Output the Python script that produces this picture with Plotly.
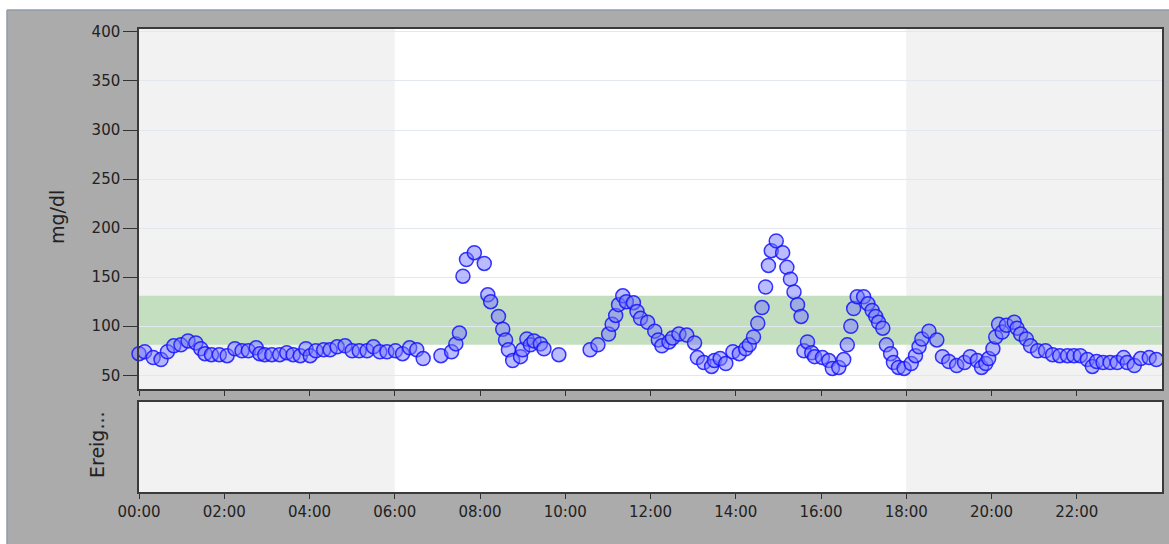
import plotly.graph_objects as go

# ---- data ----
times = [
    "00:00", "00:08", "00:20", "00:31", "00:40", "00:49", "00:59", "01:09", "01:20", "01:27",
    "01:33", "01:42", "01:53", "02:04", "02:15", "02:25", "02:34", "02:45", "02:50", "02:57",
    "03:07", "03:18", "03:28", "03:37", "03:47", "03:55", "04:01", "04:09", "04:20", "04:29",
    "04:39", "04:50", "05:00", "05:10", "05:21", "05:30", "05:39", "05:49", "06:01", "06:11",
    "06:21", "06:31", "06:40",
    "07:05", "07:20", "07:26", "07:31", "07:36", "07:41", "07:52", "08:06", "08:11", "08:15",
    "08:26", "08:32", "08:36", "08:40", "08:46", "08:57", "09:00", "09:06", "09:11", "09:16",
    "09:25", "09:30", "09:51",
    "10:35", "10:46", "11:01", "11:06", "11:11", "11:15", "11:21", "11:26", "11:36", "11:41",
    "11:46", "11:56", "12:06", "12:11", "12:16", "12:26", "12:31", "12:40", "12:51", "13:02",
    "13:06", "13:15", "13:26", "13:30", "13:38", "13:46", "13:56", "14:05", "14:14", "14:19",
    "14:25", "14:31", "14:37", "14:42", "14:46", "14:50", "14:57", "15:06", "15:12", "15:17",
    "15:22", "15:27", "15:32", "15:36", "15:41", "15:47", "15:51", "16:02", "16:11", "16:16",
    "16:25", "16:32", "16:37", "16:42", "16:46", "16:51", "17:00", "17:06", "17:12", "17:17",
    "17:21", "17:27", "17:32", "17:38", "17:42", "17:49", "17:57", "18:07", "18:13", "18:18",
    "18:22", "18:32", "18:43", "18:51", "19:00", "19:11", "19:22", "19:30", "19:40", "19:46",
    "19:52", "19:56", "20:02", "20:06", "20:10", "20:15", "20:21", "20:32", "20:36", "20:41",
    "20:49", "20:55", "21:05", "21:16", "21:26", "21:36", "21:47", "21:56", "22:05", "22:15",
    "22:22", "22:28", "22:37", "22:47", "22:57", "23:06", "23:11", "23:21", "23:30", "23:42",
    "23:52",
]
glucose = [
    72, 74, 68, 66, 74, 80, 81, 85, 83, 77,
    72, 71, 71, 70, 77, 75, 75, 78, 72, 71,
    71, 71, 73, 71, 70, 77, 70, 75, 76, 76,
    79, 80, 75, 75, 75, 79, 74, 74, 75, 72,
    78, 76, 67,
    70, 74, 82, 93, 151, 168, 175, 164, 132, 125,
    110, 97, 86, 76, 65, 69, 76, 87, 81, 85,
    82, 77, 71,
    76, 81, 92, 102, 111, 122, 131, 125, 124, 115,
    108, 104, 95, 86, 80, 84, 88, 92, 91, 83,
    68, 63, 59, 65, 67, 62, 74, 72, 77, 81,
    89, 103, 119, 140, 162, 177, 187, 175, 160, 148,
    135, 122, 110, 75, 84, 73, 69, 68, 65, 57,
    58, 66, 81, 100, 118, 130, 130, 123, 116, 110,
    104, 98, 81, 72, 63, 58, 57, 62, 70, 79,
    87, 95, 86, 69, 64, 60, 63, 69, 65, 58,
    62, 67, 77, 89, 102, 94, 101, 104, 98, 92,
    87, 80, 75, 75, 71, 70, 70, 70, 70, 66,
    59, 64, 63, 63, 63, 68, 63, 60, 67, 68,
    66,
]
y_ticks = [50, 100, 150, 200, 250, 300, 350, 400]
x_tick_labels = ["00:00", "02:00", "04:00", "06:00", "08:00", "10:00",
                 "12:00", "14:00", "16:00", "18:00", "20:00", "22:00"]
target_low, target_high = 81, 131
night_spans = [("00:00", "06:00"), ("18:00", "24:00")]
y_title = "mg/dl"
events_title = "Ereig..."

DAY = "2024-01-01 "


def ts(t):
    if t == "24:00":
        return "2024-01-02 00:00"
    return DAY + t


x_vals = [ts(t) for t in times]
tick_vals = [ts(t) for t in x_tick_labels]

W, H = 1169, 544
L, R = 139, 1162
main_top, main_bot = 29, 389
ev_top, ev_bot = 402, 492


def px(x):
    return x / W


def py(y):
    return (H - y) / H


fig = go.Figure()
fig.add_trace(go.Scatter(
    x=x_vals, y=glucose, mode="markers", xaxis="x", yaxis="y",
    cliponaxis=False,
    marker=dict(size=14, color="rgba(120,120,255,0.5)",
                line=dict(color="rgba(20,20,255,0.85)", width=1.5)),
    hoverinfo="x+y", showlegend=False,
))
# invisible trace to create lower panel
fig.add_trace(go.Scatter(x=[ts("00:00")], y=[0.5], mode="markers", xaxis="x2", yaxis="y2",
                         marker=dict(opacity=0), showlegend=False, hoverinfo="skip"))

shapes = []
for (a, b) in night_spans:
    for xr, yr in (("x", "y domain"), ("x2", "y2 domain")):
        shapes.append(dict(type="rect", xref=xr, yref=yr, x0=ts(a), x1=ts(b), y0=0, y1=1,
                           fillcolor="#f2f2f2", line=dict(width=0), layer="below"))
shapes.append(dict(type="rect", xref="x domain", yref="y", x0=0, x1=1, y0=target_low, y1=target_high,
                   fillcolor="#c3dfbf", line=dict(width=0), layer="below"))
# white outer strips and frame line
shapes.append(dict(type="rect", xref="paper", yref="paper", x0=0, x1=1, y0=py(10), y1=1,
                   fillcolor="white", line=dict(width=0), layer="above"))
shapes.append(dict(type="rect", xref="paper", yref="paper", x0=0, x1=px(7), y0=0, y1=1,
                   fillcolor="white", line=dict(width=0), layer="above"))
shapes.append(dict(type="line", xref="paper", yref="paper", x0=px(7), x1=1, y0=py(10), y1=py(10),
                   line=dict(color="#8d9cab", width=1.5), layer="above"))
shapes.append(dict(type="line", xref="paper", yref="paper", x0=px(7), x1=px(7), y0=0, y1=py(10),
                   line=dict(color="#8d9cab", width=1.5), layer="above"))

font_fam = "DejaVu Sans"
axis_common = dict(showline=True, linecolor="#3a3a3a", linewidth=1.5, mirror=True, automargin=False)

fig.update_layout(
    template="none",
    width=W, height=H,
    autosize=False,
    margin=dict(l=0, r=0, t=0, b=0, pad=0, autoexpand=False),
    paper_bgcolor="#ababab",
    plot_bgcolor="white",
    font=dict(family=font_fam, size=15, color="#222"),
    shapes=shapes,
    showlegend=False,
    xaxis=dict(domain=[px(L), px(R)], anchor="y", type="date",
               range=[ts("00:00"), ts("24:00")], tickvals=tick_vals, ticktext=x_tick_labels,
               showticklabels=False, ticks="outside", ticklen=5, tickcolor="#333",
               showgrid=False, zeroline=False, **axis_common),
    yaxis=dict(domain=[py(main_bot), py(main_top)], anchor="x", range=[36, 403],
               tickvals=y_ticks, ticks="outside", ticklen=14, tickcolor="#333",
               showgrid=True, gridcolor="#e3e8ef", gridwidth=1, zeroline=False,
               tickfont=dict(size=15, color="#222"), **axis_common),
    xaxis2=dict(domain=[px(L), px(R)], anchor="y2", type="date", matches="x",
                range=[ts("00:00"), ts("24:00")], tickvals=tick_vals, ticktext=x_tick_labels,
                ticks="outside", ticklen=5, tickcolor="#333", showgrid=False, zeroline=False,
                tickfont=dict(size=15, color="#222"), **axis_common),
    yaxis2=dict(domain=[py(ev_bot), py(ev_top)], anchor="x2", range=[0, 1],
                showticklabels=False, ticks="", showgrid=False, zeroline=False, **axis_common),
    annotations=[
        dict(text=y_title, xref="paper", yref="paper", x=px(57), y=py(217), textangle=-90,
             showarrow=False, font=dict(size=19, color="#222"), xanchor="center", yanchor="middle"),
        dict(text=events_title, xref="paper", yref="paper", x=px(97), y=py(445), textangle=-90,
             showarrow=False, font=dict(size=19, color="#222"), xanchor="center", yanchor="middle"),
    ],
)

fig.write_html("out.html", config={"displayModeBar": False},
               post_script="document.body.style.margin='0';")
